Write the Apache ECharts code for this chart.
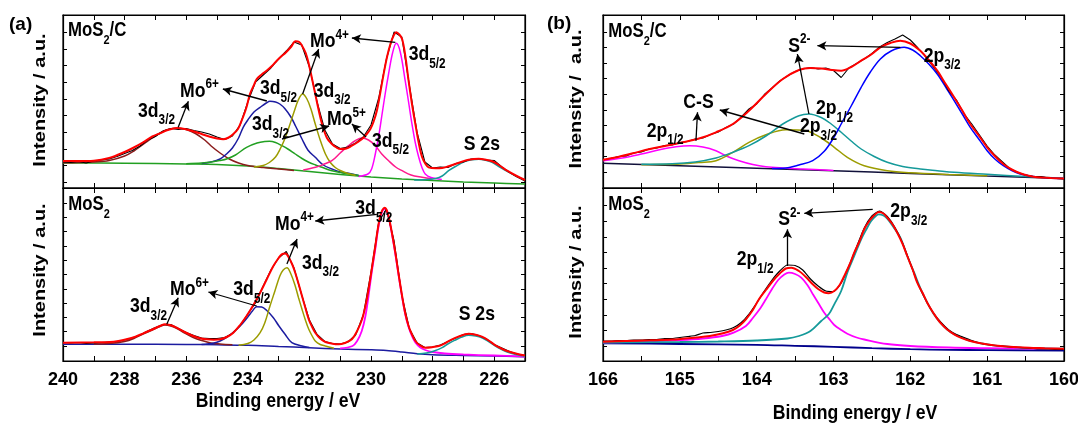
<!DOCTYPE html>
<html><head><meta charset="utf-8">
<script src="https://cdn.jsdelivr.net/npm/echarts@6/dist/echarts.min.js"></script>
<style>html,body{margin:0;padding:0;background:#fff}#c{width:1078px;height:423px}</style>
</head><body><div id="c"></div>
<script>
// ===================== DATA =====================
// x-axis ticks / labels
const aTickValues = [225,226,227,228,229,230,231,232,233,234,235,236,237,238,239,240];
const aLabelValues = [226,228,230,232,234,236,238,240];
const bTickValues = [160,160.5,161,161.5,162,162.5,163,163.5,164,164.5,165,165.5,166];
const bLabelValues = [160,161,162,163,164,165,166];
// y ticks (arbitrary intensity units, no labels)
const yTicksATop = [5.7,22.3,39,55.7,72.3,89,105.7,122.3,139,155.7];
const yTicksABot = [15,29.3,43.6,57.9,72.2,86.5,100.8,115.1,129.4,143.7,158];
const yTicksBTop = [15.7,31.3,46.9,62.5,78.1,93.7,109.3,124.9,140.5,156.1];
const yTicksBBot = [15,30.6,46.2,61.8,77.4,93,108.6,124.2,139.8,155.4];

// raw spectra energies
const aRawEnergy = [240,239.75,239.5,239.25,239,238.75,238.5,238.25,238,237.75,237.5,237.25,237,236.75,236.5,236.25,236,235.75,235.5,235.25,235,234.75,234.5,234.25,234,233.75,233.5,233.25,233,232.75,232.5,232.25,232,231.75,231.5,231.25,231,230.75,230.5,230.25,230,229.75,229.5,229.25,229,228.75,228.5,228.25,228,227.75,227.5,227.25,227,226.75,226.5,226.25,226,225.75,225.5,225.25,225];
const bRawEnergy = [166,165.9,165.8,165.7,165.6,165.5,165.4,165.3,165.2,165.1,165,164.9,164.8,164.7,164.6,164.5,164.4,164.3,164.2,164.1,164,163.9,163.8,163.7,163.6,163.5,163.4,163.3,163.2,163.1,163,162.9,162.8,162.7,162.6,162.5,162.4,162.3,162.2,162.1,162,161.9,161.8,161.7,161.6,161.5,161.4,161.3,161.2,161.1,161,160.9,160.8,160.7,160.6,160.5,160.4,160.3,160.2,160.1,160];

// ---- (a) Mo 3d, MoS2/C ----
const aTopRaw = [26,25.5,26.5,25,27,28,29,31.5,34.5,37.5,42,48,51.5,57,59.5,58.5,59.5,57.5,56,54,51,48.5,52,63,86,106,113,120,129,137,146,143,121,86,58,44,39.5,41,45,51,63,90,129,156,151,102,55,26,20,21,20.5,24.5,26,29,29.5,28,27.5,21,15.5,11,7];
const aTopEnvelope = [[240,27],[239.5,27],[239,27.3],[238.5,30],[238,36],[237.7,40.5],[237.4,45.7],[237.1,51.5],[236.85,54.7],[236.6,58],[236.3,60],[236.05,59],[235.77,56.7],[235.5,54],[235.23,51.3],[235,49.5],[234.8,48.7],[234.62,50.5],[234.47,54],[234.32,59],[234.2,67.3],[234.05,80],[233.93,94],[233.8,103],[233.71,109],[233.55,113.5],[233.39,117.3],[233.2,122.5],[233.06,127.3],[232.9,132],[232.79,134.7],[232.6,141],[232.45,146.7],[232.33,146],[232.24,142.3],[232.12,135],[232.02,124],[231.92,110],[231.81,94],[231.7,78],[231.59,64],[231.43,50],[231.27,44],[231.12,40.5],[230.99,39],[230.8,39.5],[230.62,42.3],[230.45,45.5],[230.29,49],[230.15,53.5],[230.02,59],[229.92,66],[229.81,77.3],[229.7,95],[229.59,114],[229.48,131],[229.37,144],[229.27,152],[229.18,155.7],[229.08,153.5],[228.99,149],[228.89,133],[228.78,107.3],[228.67,84],[228.56,64],[228.45,45],[228.34,30.7],[228.23,24],[228.13,20.7],[227.9,19.8],[227.69,20],[227.48,21.8],[227.26,24],[227.05,26.3],[226.83,28.3],[226.5,29.3],[226.3,28.5],[226.07,26.7],[225.85,23],[225.58,17.3],[225.3,12.5],[225,8]];
const aTopBackground = [[240,25],[238,24.8],[236,24],[235,23.5],[234,22],[233,19.5],[232,16.5],[231,13.5],[230,11],[229,9],[228,7.5],[227,6],[226,5],[225,4]];
const aTopMo6_3d32 = [[240,25.2],[239.5,25.5],[239,26],[238.5,27.5],[238,32],[237.7,37],[237.4,43.5],[237.1,50],[236.85,55],[236.6,58.5],[236.3,60],[236,58.5],[235.7,54.5],[235.4,48],[235.2,42.3],[234.9,35],[234.6,29],[234.3,25],[234,22.5],[233.5,20.5],[233,19],[232.5,17.5]];
const aTopMo6_3d52 = [[235.5,24.5],[235.2,26],[234.9,29],[234.69,34],[234.5,40],[234.3,50],[234.15,60.7],[234,68],[233.8,76],[233.6,80.7],[233.4,85],[233.28,86.7],[233.1,86],[232.96,84],[232.8,79.5],[232.6,71],[232.45,62],[232.24,49],[232.05,38],[231.81,30.7],[231.55,23],[231.27,19],[231,16],[230.73,14.7],[230.4,12.5]];
const aTopMo5_3d32 = [[236,24.3],[235.5,25],[235.23,25.7],[234.9,27.5],[234.69,29],[234.4,33],[234.04,40.7],[233.7,45],[233.45,46.5],[233.3,46.7],[233.1,45.5],[232.89,42.3],[232.7,39],[232.46,34],[232.24,29.5],[232.02,25.7],[231.8,23],[231.59,20.7],[231.3,17.5],[231,15.5],[230.7,14],[230.4,12.5]];
const aTopMo4_3d32 = [[233.8,21],[233.5,22.5],[233.3,25.5],[233.1,31],[232.95,39],[232.8,49],[232.65,62],[232.5,76],[232.36,88],[232.22,94],[232.08,89],[231.95,79],[231.81,64],[231.65,48],[231.48,34],[231.32,25.5],[231.16,20.5],[231,17.5],[230.75,14.5],[230.5,12.5]];
const aTopMo5_3d52 = [[232.2,18],[231.8,20.7],[231.55,23.5],[231.27,27.3],[231,35],[230.73,42.3],[230.5,47.5],[230.29,50],[230.08,48],[229.86,42.3],[229.65,34],[229.43,27.3],[229.2,21],[228.99,17.3],[228.7,13],[228.34,10.7],[228,9]];
const aTopMo4_3d52 = [[230.4,11.5],[230.1,14],[229.98,19],[229.86,34],[229.75,52],[229.64,74],[229.53,96],[229.43,114],[229.3,135],[229.18,144.7],[229.05,136],[228.89,107.3],[228.78,86],[228.67,64],[228.56,45],[228.45,30.7],[228.34,20],[228.24,14],[228.05,10.5],[227.7,8.5]];
const aTopS2s = [[228.6,8],[228.2,8.5],[227.9,9.5],[227.69,12],[227.48,17.3],[227.26,21.5],[226.94,26.7],[226.72,28.3],[226.5,28.7],[226.28,27.7],[226.07,25.7],[225.85,21.5],[225.58,16.7],[225.3,12],[225,8]];

// ---- (a) Mo 3d, MoS2 ----
const aBotRaw = [18.5,18,18.5,17.5,18,18.5,19,19.5,21,23,26,30,33.5,36.5,36.5,32.5,28.5,25.5,23,22.5,22.5,23.5,27.5,35.5,47,58,75,91,103,109.5,93,66,41,26.5,19.5,17.5,17,19,26,46,89,139,152,120,66,32,18,13.5,14,16,19.5,23,26.5,27.5,25.5,22,16.5,13,9.5,7,5.5];
const aBotEnvelope = [[240,18.3],[239,18.7],[238.48,19],[238.2,20],[237.94,21.7],[237.65,24.3],[237.39,27.7],[237.1,31.5],[236.85,35],[236.69,36.7],[236.5,35.8],[236.31,33.3],[236.05,29],[235.77,25],[235.55,22.8],[235.34,21.7],[235.1,21.3],[234.9,21.7],[234.68,24],[234.47,28.3],[234.25,36],[234.04,45],[233.8,57],[233.6,68.3],[233.38,82],[233.17,95],[233,103],[232.9,106.7],[232.78,107.5],[232.66,103],[232.55,96],[232.46,88.3],[232.35,77],[232.24,65],[232.13,53],[232.02,41.7],[231.91,34],[231.81,28.3],[231.65,22.5],[231.48,19],[231.25,17.3],[231.05,16.7],[230.85,18],[230.62,21.7],[230.45,30],[230.29,41.7],[230.18,55],[230.08,71.7],[229.97,93],[229.86,115],[229.78,132],[229.7,145],[229.63,151],[229.56,153.3],[229.5,151.5],[229.43,145],[229.32,128],[229.21,108.3],[229.1,86],[228.99,65],[228.89,48],[228.78,35],[228.67,26.5],[228.56,20],[228.4,15.5],[228.24,13.3],[228.02,13.8],[227.8,15],[227.58,18],[227.37,21.7],[227.15,24.5],[226.94,26.7],[226.83,27.3],[226.6,26.3],[226.4,24.3],[226.18,20.5],[225.96,15.7],[225.77,12.5],[225.58,10],[225.3,7.5],[225,5.5]];
const aBotBackground = [[240,16.7],[238,16.7],[236,16.5],[235,16.2],[234,15.7],[233,14.5],[232,13.3],[231,12],[230,11.2],[229.5,10.5],[229,9],[228.5,7.2],[228,6.2],[227,5.5],[226,5],[225,4.3]];
const aBotMo6_3d32 = [[239,17],[238.5,17.5],[238,19.5],[237.7,22.5],[237.4,27],[237.1,31],[236.85,34.5],[236.69,36],[236.5,35],[236.3,32.5],[236.05,28],[235.77,23.5],[235.5,20.5],[235.2,18],[234.9,17],[234.5,16.2]];
const aBotMo6_3d52 = [[235.5,16.5],[235.1,18],[234.9,20],[234.7,23.5],[234.5,28],[234.25,35],[234,44],[233.85,50],[233.71,54.3],[233.55,54],[233.4,51],[233.17,43.3],[233,35.5],[232.79,26.7],[232.57,18.3],[232.24,15],[232,13.5]];
const aBotMo4_3d32 = [[234.3,15.8],[234,17.5],[233.8,21],[233.6,28.3],[233.45,38],[233.28,55],[233.12,70],[232.96,85],[232.85,91],[232.73,93.3],[232.6,87],[232.46,75],[232.35,63],[232.24,51.7],[232.13,41],[232.02,31.7],[231.91,25],[231.81,20],[231.65,16.5],[231.48,15],[231.2,12.7]];
const aBotMo4_3d52 = [[231,12.5],[230.6,15],[230.45,20],[230.3,30],[230.18,45],[230.08,65],[229.97,90],[229.86,112],[229.78,130],[229.7,143],[229.63,150],[229.56,152],[229.5,150.5],[229.43,144],[229.32,127],[229.21,107],[229.1,85],[228.99,64],[228.89,47],[228.78,34],[228.67,25],[228.56,18.5],[228.4,13.5],[228.24,11],[228,9],[227.6,7.5],[227,6.5],[226,5.5],[225,4.5]];
const aBotS2s = [[228.5,7],[228.2,8],[227.95,10],[227.69,13.3],[227.48,17.5],[227.26,21],[227.05,24],[226.83,25.7],[226.6,25],[226.4,23.3],[226.18,19.5],[225.96,15],[225.77,11.7],[225.58,9],[225.3,6.5],[225,4.8]];

// ---- (b) S 2p, MoS2/C ----
const bTopRaw = [28,29.5,31.5,32,35,36,39,40,42.5,43,45.5,46.5,49,50,53.5,56,60.5,64,71,79,84,93.5,100,107,112,116.5,119,120.5,119,120,117.5,110.5,120,124.5,129,134.5,141,145.5,149,153,148,140,131,121,111,97,88,74,64,53,42,33,26,19,15.5,13,11.5,11.5,10,9.5,9];
const bTopEnvelope = [[166,28.3],[165.82,30.7],[165.61,34.7],[165.39,39],[165.18,42.3],[164.96,45.7],[164.74,49.7],[164.53,55.7],[164.31,64],[164.1,77.3],[163.88,94],[163.66,109],[163.45,118],[163.3,120],[163.16,119.5],[163.02,118],[162.9,117.3],[162.77,121],[162.64,127.3],[162.5,134],[162.39,140.7],[162.26,145],[162.13,147.3],[162,144.5],[161.87,137.3],[161.76,128],[161.65,117.3],[161.54,104],[161.43,90.7],[161.32,77],[161.22,64],[161.1,51.5],[161,40.7],[160.9,32],[160.79,24],[160.68,18.5],[160.57,14.7],[160.46,12.3],[160.35,10.7],[160.17,10],[160,9.5]];
const bTopBackground = [[166,24.7],[165,22.2],[164,19.7],[163,17.2],[162,14.6],[161,12],[160,9.5]];
const bTopCS_2p12 = [[166,27.3],[165.75,30],[165.5,34],[165.25,38.5],[165.05,41.3],[164.87,42.3],[164.7,41],[164.53,37.3],[164.38,31.5],[164.23,27.3],[164.05,23.5],[163.88,21.3],[163.66,20],[163.4,19],[163,17.5]];
const bTopCS_2p32 = [[165.5,23.3],[165.25,23.5],[165,24],[164.75,25.5],[164.53,27.3],[164.31,35.7],[164.1,45.7],[163.88,53.3],[163.62,58.3],[163.36,57.3],[163.16,50],[162.99,40.7],[162.82,30.7],[162.6,22.3],[162.3,17.3],[162,15.2],[161.5,13.5],[161,12.3]];
const bTopS2_2p12 = [[165.5,23.8],[165.1,24.2],[164.8,26],[164.53,30],[164.3,36],[164.1,42.3],[163.88,52],[163.66,64],[163.45,72.3],[163.32,74],[163.16,70.5],[163.03,64],[162.9,55.7],[162.77,47],[162.64,39],[162.47,31.5],[162.3,25.7],[162.1,21.5],[161.87,19],[161.65,17.3],[161.43,15.7],[161,13.7],[160.5,11.5],[160,9.8]];
const bTopS2_2p32 = [[163.8,19.5],[163.62,20],[163.45,23],[163.27,27.3],[163.12,36.7],[163,50],[162.9,64],[162.77,82],[162.64,100.7],[162.52,116],[162.39,129],[162.25,137],[162.08,140.7],[161.97,138],[161.87,132.3],[161.76,124],[161.65,114],[161.54,101],[161.43,87.3],[161.32,73.5],[161.22,60.7],[161.1,48],[161,37.3],[160.9,29],[160.79,22.3],[160.68,17.5],[160.57,14],[160.4,11.5],[160.2,10],[160,9.5]];

// ---- (b) S 2p, MoS2 ----
const bBotRaw = [20,20,20.5,20.5,21,21,21.5,21.5,22.5,22.5,23.5,24.5,25.5,28,28.5,29.5,31,33.5,38.5,47,58,70,81,90,96,95.5,91,82,75,70,69.5,78,95,114,133,145,150,144.5,133.5,117.5,97.5,77,61,48,38.5,31,26.5,23.5,20.5,18,16.5,15.5,15,14,13.5,13,12.5,12,12,11.5,11.5];
const bBotEnvelope = [[166,19.3],[165.7,20],[165.39,20.7],[165.1,21.5],[164.96,22.3],[164.78,23.5],[164.61,25],[164.45,27.5],[164.31,31],[164.22,35.5],[164.14,41.7],[164.05,51],[163.97,61.7],[163.88,71],[163.79,80],[163.7,87.5],[163.62,92.5],[163.55,93.3],[163.45,90],[163.36,84],[163.27,76.7],[163.2,72],[163.12,68.5],[163.06,67.8],[162.99,70],[162.92,76],[162.86,85],[162.79,96.5],[162.73,108.3],[162.66,120],[162.6,131.7],[162.53,140.5],[162.47,145.7],[162.41,149],[162.35,147.5],[162.3,143.3],[162.23,136.5],[162.17,128.3],[162.1,117],[162.04,105],[161.97,91.5],[161.91,78.3],[161.84,68],[161.78,58.3],[161.7,48],[161.61,38.3],[161.52,31.5],[161.43,26.7],[161.33,22.8],[161.22,20],[161.07,17.5],[160.92,15.7],[160.75,14.6],[160.57,13.7],[160.4,13.1],[160.25,12.7],[160,12.3]];
const bBotBackground = [[166,17.7],[165,17],[164,16.2],[163.5,15.2],[163,14.2],[162.5,12.8],[162,11.8],[161.5,11.2],[161,10.9],[160,10.5]];
const bBotS2_2p12 = [[166,18.3],[165.5,19.5],[165,21],[164.7,22.5],[164.45,25],[164.3,28.3],[164.14,35],[164.05,43],[163.95,53],[163.88,61.7],[163.8,72],[163.72,81],[163.64,86.5],[163.58,88.3],[163.5,87],[163.42,83.3],[163.34,76],[163.27,67],[163.19,57],[163.12,48.3],[163.04,40.5],[162.99,36],[162.9,31],[162.82,27.3],[162.7,23.5],[162.6,21.5],[162.3,17],[162,15],[161.5,13.5],[161,12.8],[160.5,12.4],[160,12.1]];
const bBotS2_2p32 = [[166,18.5],[165,19],[164.5,19.5],[164,20.5],[163.6,22.5],[163.45,25],[163.3,30],[163.16,40],[163.06,47],[162.99,56.7],[162.9,70],[162.82,88.3],[162.73,105],[162.64,121.7],[162.57,132],[162.51,140],[162.45,145],[162.41,146.7],[162.35,145.5],[162.3,142.3],[162.22,134],[162.13,123.3],[162.04,105],[161.95,88.3],[161.87,73],[161.78,58.3],[161.7,47.5],[161.61,38.3],[161.52,31.5],[161.43,26.7],[161.3,22.5],[161.22,20],[161.07,17.5],[160.92,15.7],[160.75,14.5],[160.57,13.3],[160.25,12.5],[160,12.3]];

// ===================== LAYOUT / STYLE =====================
const FONT = '"Liberation Sans", Arial, Helvetica, sans-serif';
const C = {
  raw:'#000000', env:'#ff0000', brown:'#8b1c1c', navy:'#1c1ca0', green:'#22a022',
  olive:'#9c9c00', pink:'#ff1a8c', magenta:'#ff00ff', teal:'#159a9a', blue:'#0000ff'
};
const grids = [
  {left:63, top:15, width:462, height:173},
  {left:63, top:188, width:462, height:173},
  {left:603, top:15, width:461, height:173},
  {left:603, top:188, width:461, height:173}
];

const arrows = [
  [ [[236.26,60.7],[235.93,86.7]], [[233.38,87],[234.81,99]], [[232.89,49],[231.36,62]],
    [[232.22,94],[231.70,139]], [[229.21,145.7],[230.62,150]], [[230.16,51],[230.62,64]] ],
  [ [[236.63,36.7],[236.26,63.3]], [[233.71,55],[235.28,69]], [[232.73,97],[232.40,122]],
    [[229.81,146.7],[231.81,140]] ],
  [ [[164.79,47.3],[164.77,75.7]], [[163.38,54],[164.48,78]], [[163.32,74],[163.47,134]],
    [[162.13,140.7],[163.21,142.3]] ],
  [ [[163.60,95],[163.60,131.7]], [[162.49,151.7],[163.38,147.7]] ]
];

function xAxes(gi, min, max, ticks, labels, showLabels) {
  const base = {
    gridIndex: gi, type: 'value', min, max, inverse: true,
    axisLine: {show: true, onZero: false, lineStyle: {color: '#000', width: 1.2}},
    axisTick: {show: true, inside: true, length: 5, customValues: ticks, lineStyle: {color: '#000', width: 1}},
    splitLine: {show: false}, minorTick: {show: false}
  };
  return [
    Object.assign({}, base, {position: 'bottom',
      axisLabel: {show: showLabels, customValues: labels, color: '#000', fontSize: 18, fontWeight: 'bold',
                  fontFamily: FONT, margin: 10}}),
    Object.assign({}, base, {position: 'top', axisLabel: {show: false}})
  ];
}
function yAxes(gi, ticks) {
  const base = {
    gridIndex: gi, type: 'value', min: 0, max: 173,
    axisLine: {show: true, onZero: false, lineStyle: {color: '#000', width: 1.2}},
    axisTick: {show: true, inside: true, length: 4, customValues: ticks, lineStyle: {color: '#000', width: 1}},
    axisLabel: {show: false}, splitLine: {show: false}
  };
  return [Object.assign({}, base, {position: 'left'}), Object.assign({}, base, {position: 'right'})];
}
function curve(gi, name, data, color, width, smooth) {
  return {
    type: 'line', name, xAxisIndex: 2*gi, yAxisIndex: 2*gi, data,
    showSymbol: false, symbol: 'none', smooth: smooth === undefined ? 0.35 : smooth,
    lineStyle: {color, width}, itemStyle: {color}, emphasis: {disabled: true},
    silent: true, animation: false
  };
}
function withArrows(s, gi) {
  s.markLine = {
    silent: true, animation: false, symbol: ['none', 'arrow'], symbolSize: [7, 9],
    lineStyle: {color: '#000', width: 1.3, type: 'solid'}, label: {show: false},
    emphasis: {disabled: true},
    data: arrows[gi].map(a => [{coord: a[0]}, {coord: a[1]}])
  };
  return s;
}
const pair = (xs, ys) => xs.map((x, i) => [x, ys[i]]);

const series = [
  // (a) top
  withArrows(curve(0, 'bg', aTopBackground, C.green, 1.5), 0),
  curve(0, 'Mo6+ 3d3/2', aTopMo6_3d32, C.brown, 1.5),
  curve(0, 'Mo6+ 3d5/2', aTopMo6_3d52, C.navy, 1.5),
  curve(0, 'Mo5+ 3d3/2', aTopMo5_3d32, C.green, 1.5),
  curve(0, 'Mo4+ 3d3/2', aTopMo4_3d32, C.olive, 1.5),
  curve(0, 'Mo5+ 3d5/2', aTopMo5_3d52, C.pink, 1.5),
  curve(0, 'Mo4+ 3d5/2', aTopMo4_3d52, C.magenta, 1.5),
  curve(0, 'S 2s', aTopS2s, C.teal, 1.5),
  curve(0, 'raw', pair(aRawEnergy, aTopRaw), C.raw, 1.1, false),
  curve(0, 'fit', aTopEnvelope, C.env, 2),
  // (a) bottom
  withArrows(curve(1, 'bg', aBotBackground, C.navy, 1.5), 1),
  curve(1, 'Mo6+ 3d3/2', aBotMo6_3d32, C.brown, 1.5),
  curve(1, 'Mo6+ 3d5/2', aBotMo6_3d52, C.navy, 1.5),
  curve(1, 'Mo4+ 3d3/2', aBotMo4_3d32, C.olive, 1.5),
  curve(1, 'Mo4+ 3d5/2', aBotMo4_3d52, C.magenta, 1.8),
  curve(1, 'S 2s', aBotS2s, C.teal, 1.5),
  curve(1, 'raw', pair(aRawEnergy, aBotRaw), C.raw, 1.1, false),
  curve(1, 'fit', aBotEnvelope, C.env, 2),
  // (b) top
  withArrows(curve(2, 'bg', bTopBackground, '#10103a', 1.5), 2),
  curve(2, 'C-S 2p1/2', bTopCS_2p12, C.magenta, 1.5),
  curve(2, 'C-S 2p3/2', bTopCS_2p32, C.olive, 1.5),
  curve(2, 'S2- 2p1/2', bTopS2_2p12, C.teal, 1.5),
  curve(2, 'S2- 2p3/2', bTopS2_2p32, C.blue, 1.5),
  curve(2, 'raw', pair(bRawEnergy, bTopRaw), C.raw, 1.1, false),
  curve(2, 'fit', bTopEnvelope, C.env, 2),
  // (b) bottom
  withArrows(curve(3, 'bg', bBotBackground, '#00008b', 1.8), 3),
  curve(3, 'S2- 2p1/2', bBotS2_2p12, C.magenta, 1.8),
  curve(3, 'S2- 2p3/2', bBotS2_2p32, C.teal, 1.8),
  curve(3, 'raw', pair(bRawEnergy, bBotRaw), C.raw, 1.2, 0.2),
  curve(3, 'fit', bBotEnvelope, C.env, 2)
];

// ===================== ANNOTATION TEXT =====================
const RICH = {
  m:  {fontSize: 21, fontWeight: 'bold', fontFamily: FONT, lineHeight: 33, verticalAlign: 'middle', fill: '#000'},
  n:  {fontSize: 20, fontWeight: 'bold', fontFamily: FONT, lineHeight: 33, verticalAlign: 'middle', fill: '#000'},
  b:  {fontSize: 14, fontWeight: 'bold', fontFamily: FONT, lineHeight: 14, verticalAlign: 'bottom', fill: '#000'},
  nb: {fontSize: 13, fontWeight: 'bold', fontFamily: FONT, lineHeight: 13, verticalAlign: 'bottom', fill: '#000'},
  p:  {fontSize: 14, fontWeight: 'bold', fontFamily: FONT, lineHeight: 14, verticalAlign: 'top', padding: [3,0,0,0], fill: '#000'}
};
const labels = [
  [68, 22.3, '{n|MoS}{nb|2}{n|/C}'], [138, 102.3, '{m|3d}{b|3/2}'], [180, 82.3, '{m|Mo}{p|6+}'],
  [260, 80, '{m|3d}{b|5/2}'], [252, 115.7, '{m|3d}{b|3/2}'], [313.7, 82.3, '{m|3d}{b|3/2}'],
  [310, 33, '{m|Mo}{p|4+}'], [408.7, 45.7, '{m|3d}{b|5/2}'], [327, 110.7, '{m|Mo}{p|5+}'],
  [372, 132.3, '{m|3d}{b|5/2}'], [463.7, 135.7, '{m|S 2s}'],
  [68.3, 196, '{n|MoS}{nb|2}'], [130, 297.7, '{m|3d}{b|3/2}'], [170, 281, '{m|Mo}{p|6+}'],
  [233.3, 281, '{m|3d}{b|5/2}'], [275, 215.3, '{m|Mo}{p|4+}'], [355.3, 200, '{m|3d}{b|5/2}'],
  [302, 254.3, '{m|3d}{b|3/2}'], [458.7, 306, '{m|S 2s}'],
  [608.3, 23.3, '{n|MoS}{nb|2}{n|/C}'], [646.7, 122.3, '{m|2p}{b|1/2}'], [683.3, 93.3, '{m|C-S}'],
  [800, 118, '{m|2p}{b|3/2}'], [816, 100, '{m|2p}{b|1/2}'], [788.3, 37.3, '{m|S}{p|2-}'],
  [923.7, 47.3, '{m|2p}{b|3/2}'],
  [608.3, 196, '{n|MoS}{nb|2}'], [736.7, 251, '{m|2p}{b|1/2}'], [778.3, 211, '{m|S}{p|2-}'],
  [890.3, 202.7, '{m|2p}{b|3/2}']
];
const graphic = labels.map(l => ({
  type: 'text', x: l[0], y: l[1] - 8, scaleX: 0.84, silent: true, z: 100,
  style: {text: l[2], rich: RICH, align: 'left', verticalAlign: 'top', fill: '#000'}
}));
const plain = (text, x, y, size, opts) => Object.assign({
  type: 'text', x, y, silent: true, z: 100,
  style: {text, fill: '#000', font: 'bold ' + size + 'px ' + FONT, align: 'center', verticalAlign: 'middle'}
}, opts || {});
graphic.push(plain('(a)', 9, 15, 19, {style: {text: '(a)', fill: '#000', font: 'bold 19px ' + FONT, align: 'left', verticalAlign: 'top'}}));
graphic.push(plain('(b)', 547, 14, 19, {style: {text: '(b)', fill: '#000', font: 'bold 19px ' + FONT, align: 'left', verticalAlign: 'top'}}));
graphic.push(plain('Binding energy / eV', 278, 401, 21, {scaleX: 0.84}));
graphic.push(plain('Binding energy / eV', 855, 413, 21, {scaleX: 0.84}));
graphic.push(plain('Intensity / a.u.', 40, 100, 20, {rotation: Math.PI / 2, scaleY: 0.87}));
graphic.push(plain('Intensity / a.u.', 40, 270, 20, {rotation: Math.PI / 2, scaleY: 0.87}));
graphic.push(plain('Intensity /  a.u.', 576, 99, 20, {rotation: Math.PI / 2, scaleY: 0.87}));
graphic.push(plain('Intensity / a.u.', 576, 272, 20, {rotation: Math.PI / 2, scaleY: 0.87}));

const option = {
  animation: false,
  backgroundColor: '#fff',
  grid: grids.map(g => Object.assign({show: true, borderColor: '#000', borderWidth: 1.2,
                                       containLabel: false, outerBoundsMode: 'none'}, g)),
  xAxis: [].concat(
    xAxes(0, 225, 240, aTickValues, aLabelValues, false),
    xAxes(1, 225, 240, aTickValues, aLabelValues, true),
    xAxes(2, 160, 166, bTickValues, bLabelValues, false),
    xAxes(3, 160, 166, bTickValues, bLabelValues, true)
  ),
  yAxis: [].concat(yAxes(0, yTicksATop), yAxes(1, yTicksABot), yAxes(2, yTicksBTop), yAxes(3, yTicksBBot)),
  series,
  graphic
};
const chart = echarts.init(document.getElementById('c'), null, {renderer: 'canvas'});
chart.setOption(option);
</script></body></html>
